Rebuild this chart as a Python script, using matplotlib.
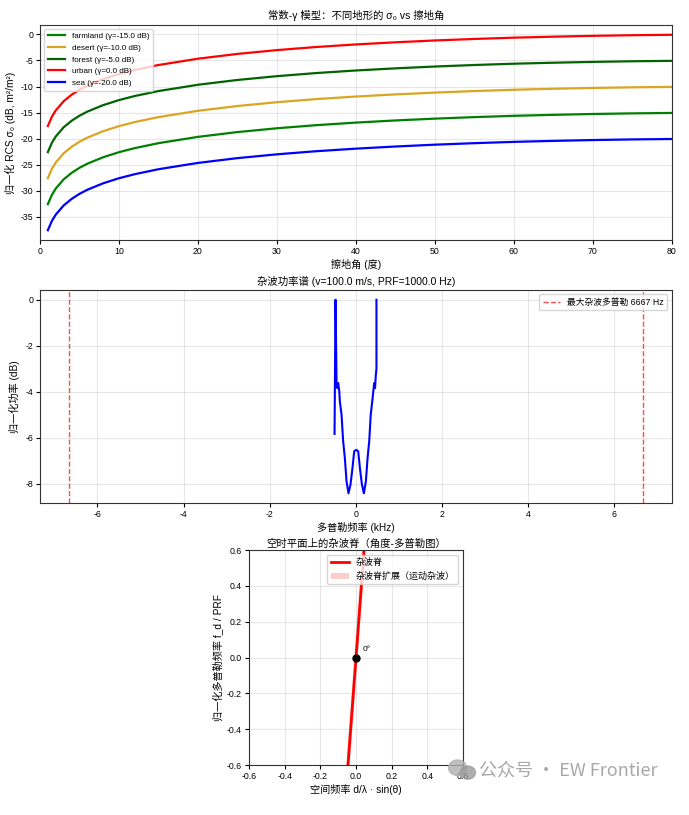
import matplotlib.pyplot as plt
from matplotlib.patches import Ellipse

plt.rcParams['font.family'] = ['Liberation Sans', 'Noto Sans CJK SC', 'DejaVu Sans']
plt.rcParams['axes.unicode_minus'] = False

# Constant-gamma model: sigma0 (dB) (gamma = 0 dB)
grazing = [1, 1.5, 2, 3, 4, 5, 6, 8, 10, 12, 15, 20, 25, 30, 35, 40, 45, 50, 55, 60, 65, 70, 75, 80]
urban_db = [-17.58, -15.82, -14.58, -12.82, -11.58, -10.60, -9.81, -8.57, -7.60, -6.82,
            -5.87, -4.66, -3.74, -3.01, -2.41, -1.92, -1.51, -1.16, -0.87, -0.62,
            -0.43, -0.27, -0.15, -0.07]
terrains = ['farmland', 'desert', 'forest', 'urban', 'sea']
gammas = [-15.0, -10.0, -5.0, 0.0, -20.0]
terrain_colors = ['green', 'goldenrod', 'darkgreen', 'red', 'blue']

# Clutter power spectrum (kHz, dB)
spec_f = [-0.495, -0.472, -0.449, -0.430, -0.410, -0.385, -0.372, -0.333, -0.295, -0.256,
          -0.217, -0.171, -0.124, -0.078, -0.039, 0.008, 0.054, 0.093, 0.140, 0.186,
          0.233, 0.272, 0.310, 0.345, 0.380, 0.405, 0.425, 0.445, 0.462, 0.478, 0.478]
spec_db = [-5.83, 0.0, -3.55, -3.84, -3.62, -3.98, -4.42, -4.99, -6.15, -6.87,
           -7.88, -8.41, -8.02, -7.30, -6.58, -6.52, -6.58, -7.30, -8.02, -8.41,
           -7.88, -6.87, -6.15, -4.99, -4.42, -3.98, -3.62, -3.84, -3.30, -3.00, 0.0]
max_doppler_khz = 6.667

# Clutter ridge in the angle-Doppler plane
ridge_sf = [-0.5, -0.25, 0.0, 0.25, 0.5]
ridge_fd = [-6.667, -3.333, 0.0, 3.333, 6.667]
ridge_spread = 0.01

fig = plt.figure(figsize=(6.89, 8.15), dpi=100)
title_fs = 7.5
label_fs = 7.3

# ---- top: constant-gamma model
ax1 = fig.add_axes([0.058, 0.7055, 0.917, 0.2638])
for name, g, c in zip(terrains, gammas, terrain_colors):
    ax1.plot(grazing, [v + g for v in urban_db], color=c, lw=1.6,
             label=f'{name} (γ={g:.1f} dB)')
ax1.set_xlim(0, 80)
ax1.set_title('常数-γ 模型：不同地形的 σ₀ vs 擦地角', fontsize=title_fs, pad=4)
ax1.set_xlabel('擦地角 (度)', fontsize=label_fs, labelpad=2)
ax1.set_ylabel('归一化 RCS σ₀ (dB, m²/m²)', fontsize=label_fs, labelpad=3)
ax1.legend(loc='upper left', fontsize=5.8, handlelength=2.2, borderpad=0.45, labelspacing=0.5)

# ---- middle: clutter power spectrum
ax2 = fig.add_axes([0.058, 0.3828, 0.917, 0.2613])
ax2.plot(spec_f, spec_db, color='blue', lw=1.5)
ax2.axvline(max_doppler_khz, color='red', ls='--', lw=1, alpha=0.7,
            label=f'最大杂波多普勒 {max_doppler_khz * 1000:.0f} Hz')
ax2.axvline(-max_doppler_khz, color='red', ls='--', lw=1, alpha=0.7)
ax2.set_title('杂波功率谱 (v=100.0 m/s, PRF=1000.0 Hz)', fontsize=title_fs, pad=4)
ax2.set_xlabel('多普勒频率 (kHz)', fontsize=label_fs, labelpad=2)
ax2.set_ylabel('归一化功率 (dB)', fontsize=label_fs, labelpad=4)
ax2.legend(loc='upper right', fontsize=6.3)

# ---- bottom: clutter ridge
ax3 = fig.add_axes([0.3614, 0.0613, 0.3106, 0.2638])
ax3.plot(ridge_sf, ridge_fd, color='red', lw=2, label='杂波脊')
ax3.fill_betweenx(ridge_fd, [s - ridge_spread for s in ridge_sf],
                  [s + ridge_spread for s in ridge_sf], color='red', alpha=0.2,
                  lw=0, label='杂波脊扩展（运动杂波）')
ax3.plot([0], [0], 'o', color='black', ms=5)
ax3.annotate('0°', (0, 0), xytext=(5, 5), textcoords='offset points', fontsize=6)
ax3.set_xlim(-0.6, 0.6)
ax3.set_ylim(-0.6, 0.6)
ax3.set_title('空时平面上的杂波脊（角度-多普勒图）', fontsize=title_fs, pad=2)
ax3.set_xlabel('空间频率 d/λ · sin(θ)', fontsize=label_fs, labelpad=2)
ax3.set_ylabel('归一化多普勒频率 f_d / PRF', fontsize=label_fs, labelpad=2)
ax3.legend(loc='upper right', fontsize=6.5)

for ax in (ax1, ax2, ax3):
    ax.grid(True, alpha=0.3)
    ax.tick_params(labelsize=6.3, length=3, width=0.8, pad=2)
    for s in ax.spines.values():
        s.set_color('#333333')

# watermark
fig.patches.append(Ellipse((0.664, 0.058), 0.026, 0.019, transform=fig.transFigure,
                           color='#b0b0b0', alpha=0.8))
fig.patches.append(Ellipse((0.679, 0.052), 0.022, 0.016, transform=fig.transFigure,
                           color='#9a9a9a', alpha=0.8))
fig.text(0.695, 0.055, '公众号 · EW Frontier', fontsize=13, color='#a8a8a8',
         va='center', ha='left', family=['Noto Sans CJK SC', 'DejaVu Sans'])

fig.savefig('out.png', dpi=100)
